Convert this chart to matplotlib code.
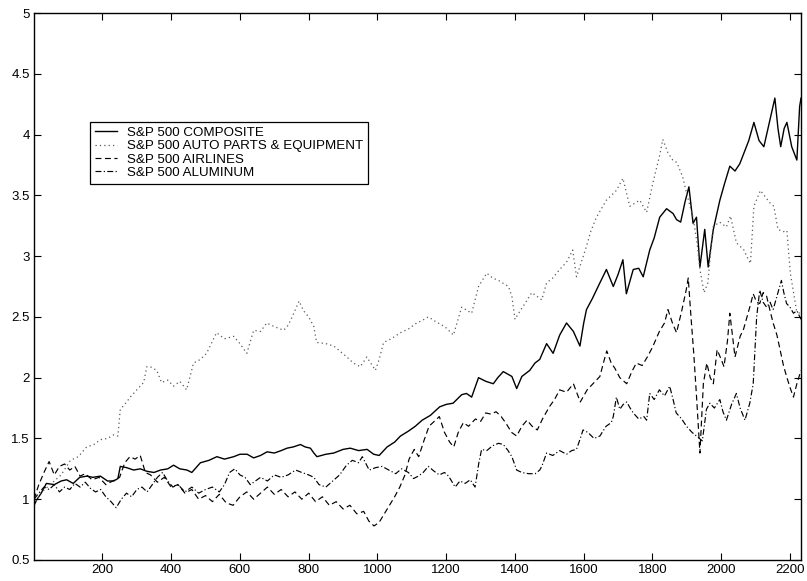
import matplotlib
matplotlib.use("Agg")
import matplotlib.pyplot as plt
import numpy as np

plt.rcParams['font.family'] = ['Liberation Sans', 'DejaVu Sans']

# ---- data (trading day index, normalised value) ----
composite = [
    (1,0.95),(10,1.0),(22,1.05),(37,1.13),(60,1.12),(80,1.15),(96,1.16),(115,1.13),(134,1.18),
    (155,1.19),(172,1.18),(194,1.19),(215,1.15),(233,1.15),(245,1.17),(252,1.27),(270,1.26),
    (291,1.24),(310,1.25),(329,1.23),(350,1.22),(369,1.24),(390,1.25),(407,1.28),(425,1.25),
    (446,1.24),(460,1.22),(485,1.3),(510,1.32),(533,1.35),(555,1.33),(582,1.35),(600,1.37),
    (621,1.37),(640,1.34),(660,1.36),(679,1.39),(700,1.38),(720,1.4),(737,1.42),(755,1.43),
    (776,1.45),(790,1.43),(805,1.42),(815,1.38),(824,1.35),(850,1.37),(873,1.38),(900,1.41),
    (921,1.42),(945,1.4),(970,1.41),(989,1.37),(1005,1.36),(1028,1.43),(1050,1.47),(1067,1.52),
    (1090,1.56),(1110,1.6),(1130,1.65),(1154,1.69),(1181,1.76),(1200,1.78),(1220,1.79),
    (1245,1.86),(1259,1.87),(1274,1.84),(1294,2.0),(1315,1.97),(1337,1.95),(1350,2.0),
    (1366,2.05),(1391,2.01),(1405,1.91),(1420,2.01),(1443,2.06),(1458,2.12),(1472,2.15),
    (1492,2.28),(1511,2.2),(1530,2.35),(1550,2.45),(1570,2.38),(1589,2.26),(1600,2.45),
    (1608,2.56),(1625,2.65),(1647,2.78),(1666,2.89),(1686,2.75),(1700,2.85),(1714,2.97),
    (1724,2.69),(1744,2.89),(1760,2.9),(1773,2.83),(1792,3.05),(1805,3.15),(1821,3.32),
    (1841,3.39),(1860,3.35),(1870,3.3),(1882,3.28),(1895,3.45),(1906,3.57),(1918,3.27),
    (1928,3.32),(1938,2.91),(1952,3.22),(1962,2.91),(1977,3.22),(1996,3.46),(2010,3.6),
    (2025,3.74),(2040,3.7),(2054,3.76),(2069,3.87),(2080,3.95),(2095,4.1),(2110,3.95),
    (2124,3.9),(2140,4.1),(2156,4.3),(2165,4.05),(2173,3.9),(2183,4.05),(2191,4.1),
    (2205,3.9),(2220,3.79),(2228,4.23),(2232,4.3),
]
auto_parts = [
    (1,0.95),(20,1.05),(40,1.1),(60,1.15),(80,1.2),(107,1.32),(130,1.35),(154,1.43),(175,1.45),
    (194,1.49),(215,1.5),(233,1.53),(245,1.52),(252,1.74),(265,1.78),(281,1.84),(300,1.9),
    (320,1.96),(329,2.09),(339,2.09),(358,2.06),(372,1.96),(390,1.98),(407,1.93),(425,1.97),
    (445,1.9),(465,2.12),(485,2.15),(503,2.2),(520,2.3),(532,2.37),(555,2.32),(582,2.34),
    (600,2.28),(620,2.2),(640,2.39),(660,2.38),(678,2.45),(700,2.42),(727,2.39),(740,2.43),
    (752,2.5),(772,2.63),(785,2.55),(800,2.5),(815,2.42),(823,2.29),(850,2.28),(873,2.26),
    (890,2.22),(911,2.17),(930,2.12),(950,2.09),(969,2.17),(994,2.06),(1005,2.15),(1018,2.29),
    (1040,2.32),(1067,2.37),(1090,2.4),(1114,2.45),(1130,2.47),(1148,2.5),(1170,2.46),
    (1196,2.42),(1221,2.35),(1245,2.58),(1274,2.53),(1294,2.75),(1318,2.86),(1335,2.82),
    (1352,2.8),(1381,2.75),(1391,2.67),(1400,2.48),(1415,2.55),(1429,2.61),(1449,2.7),
    (1478,2.64),(1492,2.78),(1510,2.82),(1530,2.89),(1550,2.95),(1568,3.05),(1579,2.83),
    (1608,3.08),(1620,3.2),(1637,3.32),(1666,3.46),(1695,3.54),(1714,3.64),(1734,3.41),
    (1763,3.46),(1783,3.36),(1801,3.6),(1821,3.83),(1830,3.96),(1845,3.85),(1859,3.79),
    (1871,3.77),(1888,3.65),(1899,3.52),(1918,3.32),(1930,3.1),(1938,2.89),(1950,2.7),
    (1961,2.78),(1976,3.24),(1995,3.28),(2015,3.24),(2027,3.33),(2044,3.11),(2066,3.05),
    (2074,3.0),(2085,2.94),(2095,3.41),(2114,3.54),(2141,3.44),(2153,3.41),(2165,3.22),
    (2180,3.2),(2191,3.21),(2201,2.86),(2219,2.55),(2232,2.52),
]
airlines = [
    (1,1.0),(15,1.12),(30,1.22),(45,1.31),(60,1.2),(75,1.27),(90,1.29),(105,1.24),(120,1.27),
    (135,1.19),(150,1.21),(170,1.16),(190,1.18),(210,1.12),(230,1.15),(250,1.18),(265,1.3),
    (280,1.35),(295,1.33),(310,1.36),(325,1.22),(340,1.2),(360,1.14),(380,1.18),(400,1.1),
    (420,1.12),(440,1.05),(460,1.08),(480,1.0),(500,1.03),(520,0.98),(540,1.04),(560,0.97),
    (580,0.95),(600,1.02),(620,1.06),(640,1.0),(660,1.05),(680,1.1),(700,1.04),(720,1.08),
    (740,1.02),(760,1.06),(780,1.0),(800,1.05),(820,0.98),(840,1.02),(860,0.95),(880,0.98),
    (900,0.92),(920,0.95),(940,0.88),(960,0.9),(975,0.82),(990,0.78),(1005,0.81),(1020,0.88),
    (1035,0.95),(1050,1.02),(1065,1.1),(1080,1.2),(1092,1.33),(1107,1.41),(1120,1.35),
    (1135,1.48),(1150,1.6),(1165,1.64),(1180,1.68),(1195,1.55),(1210,1.47),(1222,1.43),
    (1235,1.55),(1250,1.63),(1265,1.6),(1285,1.66),(1300,1.64),(1315,1.71),(1330,1.7),
    (1345,1.72),(1360,1.68),(1375,1.62),(1390,1.55),(1405,1.52),(1420,1.6),(1435,1.65),
    (1450,1.6),(1465,1.57),(1480,1.66),(1500,1.76),(1515,1.82),(1530,1.9),(1550,1.88),
    (1570,1.95),(1590,1.8),(1610,1.9),(1630,1.96),(1647,2.01),(1660,2.15),(1667,2.22),
    (1680,2.12),(1690,2.08),(1705,2.0),(1725,1.95),(1740,2.05),(1753,2.12),(1770,2.1),
    (1785,2.17),(1800,2.25),(1820,2.38),(1835,2.45),(1845,2.56),(1858,2.45),(1870,2.37),
    (1885,2.55),(1898,2.72),(1904,2.82),(1912,2.5),(1920,2.2),(1928,1.85),(1938,1.38),
    (1948,1.95),(1958,2.12),(1968,2.0),(1977,1.95),(1988,2.23),(2000,2.15),(2008,2.09),
    (2018,2.3),(2025,2.53),(2040,2.17),(2055,2.34),(2065,2.4),(2075,2.5),(2085,2.6),
    (2093,2.69),(2103,2.62),(2112,2.61),(2122,2.7),(2132,2.67),(2142,2.55),(2151,2.45),
    (2162,2.35),(2171,2.23),(2181,2.1),(2190,2.01),(2200,1.92),(2210,1.84),(2220,1.95),
    (2232,2.06),
]
aluminum = [
    (1,1.0),(15,1.05),(30,1.1),(45,1.08),(60,1.12),(75,1.06),(90,1.1),(105,1.08),(120,1.13),
    (135,1.1),(150,1.14),(165,1.09),(180,1.06),(195,1.08),(210,1.02),(225,0.98),(240,0.93),
    (255,1.0),(270,1.05),(285,1.02),(300,1.08),(315,1.1),(330,1.06),(345,1.12),(360,1.18),
    (375,1.22),(390,1.15),(405,1.1),(420,1.12),(440,1.06),(460,1.1),(480,1.05),(500,1.08),
    (520,1.1),(540,1.06),(555,1.12),(570,1.22),(585,1.25),(600,1.2),(615,1.18),(630,1.12),
    (645,1.15),(660,1.18),(680,1.15),(700,1.2),(720,1.18),(740,1.2),(762,1.24),(780,1.22),
    (800,1.2),(815,1.18),(830,1.12),(850,1.1),(870,1.15),(890,1.2),(910,1.28),(927,1.32),
    (945,1.3),(956,1.35),(976,1.24),(995,1.26),(1014,1.27),(1033,1.24),(1053,1.21),
    (1070,1.25),(1090,1.22),(1105,1.17),(1119,1.19),(1133,1.22),(1148,1.27),(1165,1.23),
    (1180,1.2),(1195,1.22),(1207,1.19),(1226,1.1),(1240,1.15),(1255,1.13),(1270,1.16),
    (1284,1.1),(1295,1.3),(1303,1.41),(1318,1.4),(1335,1.44),(1352,1.46),(1366,1.45),
    (1380,1.4),(1391,1.35),(1405,1.24),(1420,1.22),(1440,1.21),(1459,1.21),(1472,1.24),
    (1478,1.27),(1492,1.38),(1510,1.36),(1530,1.4),(1550,1.37),(1565,1.4),(1579,1.41),
    (1590,1.5),(1598,1.57),(1612,1.55),(1630,1.5),(1647,1.52),(1665,1.6),(1680,1.63),
    (1686,1.68),(1695,1.84),(1705,1.74),(1715,1.78),(1725,1.8),(1735,1.75),(1744,1.71),
    (1760,1.66),(1775,1.68),(1783,1.65),(1792,1.87),(1805,1.82),(1820,1.9),(1835,1.85),
    (1850,1.93),(1860,1.82),(1869,1.71),(1885,1.66),(1899,1.6),(1915,1.55),(1928,1.52),
    (1945,1.48),(1957,1.74),(1967,1.79),(1980,1.75),(1996,1.82),(2005,1.72),(2015,1.65),
    (2030,1.78),(2044,1.87),(2055,1.75),(2069,1.65),(2083,1.79),(2093,1.95),(2103,2.5),
    (2112,2.72),(2122,2.62),(2132,2.58),(2142,2.62),(2151,2.56),(2163,2.68),(2175,2.8),
    (2182,2.7),(2190,2.61),(2200,2.58),(2210,2.53),(2220,2.55),(2232,2.48),
]
labels = ["S&P 500 COMPOSITE", "S&P 500 AUTO PARTS & EQUIPMENT",
          "S&P 500 AIRLINES", "S&P 500 ALUMINUM"]
xticks = [200, 400, 600, 800, 1000, 1200, 1400, 1600, 1800, 2000, 2200]
yticks = [0.5, 1, 1.5, 2, 2.5, 3, 3.5, 4, 4.5, 5]
ytick_labels = ["0.5", "1", "1.5", "2", "2.5", "3", "3.5", "4", "4.5", "5"]

fig = plt.figure(figsize=(8.07, 5.81), dpi=100)
ax = fig.add_axes([34/807, 21/581, 767/807, 547/581])

styles = [dict(ls='-', lw=1.0, color='black'),
          dict(ls=(0, (1, 2.5)), lw=0.9, color='0.35'),
          dict(ls=(0, (5, 3)), lw=0.85, color='black'),
          dict(ls=(0, (5, 2, 1, 2)), lw=0.85, color='black')]
for series, lab, st in zip([composite, auto_parts, airlines, aluminum], labels, styles):
    xs, ys = zip(*series)
    ax.plot(xs, ys, label=lab, **st)

ax.set_xlim(1, 2232)
ax.set_ylim(0.5, 5)
ax.set_xticks(xticks)
ax.set_xticklabels([str(t) for t in xticks])
ax.set_yticks(yticks)
ax.set_yticklabels(ytick_labels)
ax.tick_params(direction='in', length=5, width=0.8, top=True, right=True,
               labelsize=9.5, pad=3)
for sp in ax.spines.values():
    sp.set_linewidth(1.0)

leg = ax.legend(loc='upper left', bbox_to_anchor=(0.073, 0.801), borderaxespad=0,
                fancybox=False, edgecolor='black', framealpha=1, fontsize=9.6,
                handlelength=1.65, handletextpad=0.75, labelspacing=0.08,
                borderpad=0.35)
leg.get_frame().set_linewidth(0.9)

fig.savefig("out.png", dpi=100)
